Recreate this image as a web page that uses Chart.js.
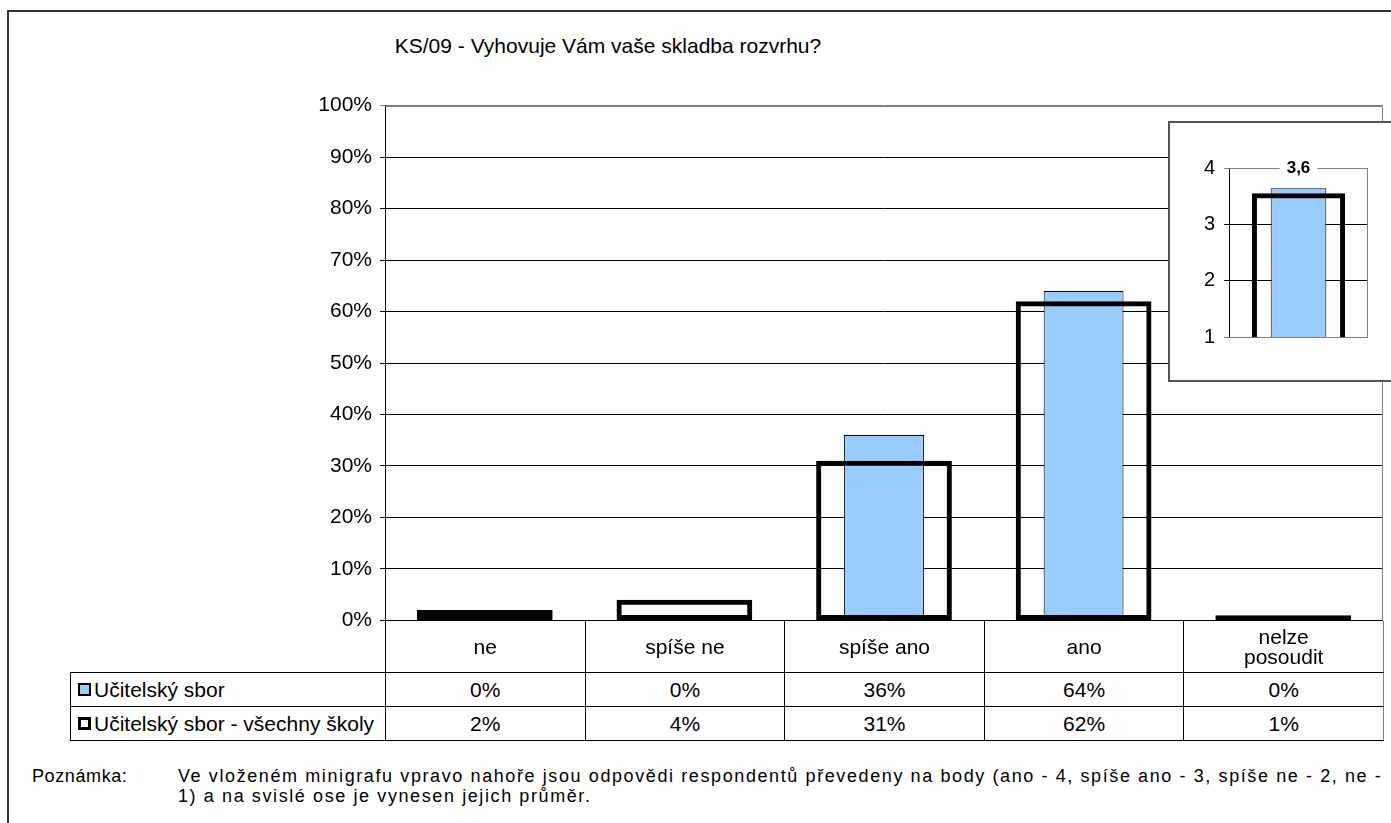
<!DOCTYPE html>
<html lang="cs">
<head>
<meta charset="utf-8">
<title>KS/09 - Vyhovuje Vám vaše skladba rozvrhu?</title>
<script src="https://cdn.jsdelivr.net/npm/chart.js@4.4.1/dist/chart.umd.min.js"></script>
<style>
  body { margin: 0; background: #fff; font-family: "Liberation Sans", Arial, sans-serif; color: #000; overflow: hidden; }
  #frame { position: absolute; left: 7px; top: 10px; width: 1400px; height: 830px; border: 2px solid #333; }
  #title { position: absolute; left: 0; width: 1216px; top: 34px; line-height: 24px; text-align: center; font-size: 21px; }
  #mainWrap { position: absolute; left: 300px; top: 85px; }
  #table { position: absolute; left: 0; top: 0; }
  .cell { position: absolute; box-sizing: border-box; display: flex; align-items: center; justify-content: center;
          text-align: center; font-size: 21px; line-height: 20px; white-space: nowrap; }
  .legendCell { justify-content: flex-start; padding-left: 7px; }
  .swatch { display: inline-block; box-sizing: border-box; width: 13px; height: 13px; margin-right: 3px; }
  #inset { position: absolute; left: 1168px; top: 121px; width: 240px; height: 257px; background: #fff; border: 2px solid #555; }
  #note { position: absolute; left: 32px; top: 766px; font-size: 18px; line-height: 20px; white-space: nowrap; letter-spacing: 1.6px; }
  #note .lbl { position: absolute; left: 0; top: 0; letter-spacing: 0.6px; }
  #note .txt { position: absolute; left: 146px; top: 0; }
</style>
</head>
<body>
<div id="frame"></div>
<div id="title">KS/09 - Vyhovuje Vám vaše skladba rozvrhu?</div>
<div id="mainWrap"><canvas id="mainChart" width="1091" height="556"></canvas></div>
<div id="table"></div>
<div id="inset"><canvas id="insetChart" width="210" height="235"></canvas></div>
<div id="note">
  <span class="lbl">Poznámka:</span>
  <span class="txt">Ve vloženém minigrafu vpravo nahoře jsou odpovědi respondentů převedeny na body (ano - 4, spíše ano - 3, spíše ne - 2, ne -<br>1) a na svislé ose je vynesen jejich průměr.</span>
</div>

<script>
// ======================
// DATA
// ======================
const categories = ["ne", "spíše ne", "spíše ano", "ano", ["nelze", "posoudit"]];
const seriesNames = ["Učitelský sbor", "Učitelský sbor - všechny školy"];
const schoolValues = [0, 0, 36, 64, 0];
const allSchoolsValues = [2, 4, 31, 62, 1];
const yTicksMax = 100;

// minigraph (average points, 1..4)
const insetSchool = [3.64];
const insetAllSchools = [3.55];
const insetLabel = "3,6";

const BLUE = "#99CCFF";

Chart.defaults.font.family = '"Liberation Sans", Arial, sans-serif';
Chart.defaults.color = "#000";


// ======================
// PLOT FRAME (gray top/right)
// ======================
const plotFrame = {
    id: "plotFrame",
    beforeDatasetsDraw(chart, args, opts) {
        const a = chart.chartArea;
        const ctx = chart.ctx;
        ctx.save();
        ctx.strokeStyle = "#808080";
        ctx.lineWidth = 1;
        ctx.beginPath();
        ctx.moveTo(a.left, Math.round(a.top) + 0.5);
        ctx.lineTo(Math.round(a.right) - 0.5, Math.round(a.top) + 0.5);
        ctx.lineTo(Math.round(a.right) - 0.5, Math.round(a.bottom) + 0.5);
        if (opts.bottom) ctx.lineTo(a.left, Math.round(a.bottom) + 0.5);
        ctx.stroke();
        ctx.restore();
    }
};


// ======================
// MAIN CHART
// ======================
const mainChart = new Chart(document.getElementById("mainChart"), {
    type: "bar",
    data: {
        labels: categories,
        datasets: [
            {
                label: seriesNames[1],
                data: allSchoolsValues,
                backgroundColor: "rgba(0,0,0,0)",
                borderColor: "#000",
                borderWidth: 5,
                borderSkipped: false,
                categoryPercentage: 1,
                barPercentage: 0.68,
                grouped: false,
                order: 1
            },
            {
                label: seriesNames[0],
                data: schoolValues,
                backgroundColor: BLUE,
                borderColor: "#000",
                borderWidth: 1,
                borderSkipped: false,
                categoryPercentage: 1,
                barPercentage: 0.40,
                grouped: false,
                order: 2
            }
        ]
    },
    options: {
        responsive: false,
        animation: false,
        layout: { padding: { top: 10, right: 8, bottom: 1, left: 0 } },
        plugins: {
            legend: { display: false },
            tooltip: { enabled: false },
            plotFrame: { bottom: false }
        },
        scales: {
            x: { display: false },
            y: {
                min: 0,
                max: yTicksMax,
                afterFit: s => { s.width = 85; },
                ticks: {
                    stepSize: 10,
                    padding: 8,
                    font: { size: 21 },
                    callback: v => v + "%"
                },
                grid: {
                    color: c => (c.tick && c.tick.value === yTicksMax) ? "#808080" : "#000",
                    tickLength: 5,
                    lineWidth: 1
                },
                border: { display: true, color: "#000", width: 1 }
            }
        }
    },
    plugins: [plotFrame]
});


// ======================
// DATA TABLE UNDER THE CHART
// ======================
function buildTable(chart) {
    const table = document.getElementById("table");
    const wrap = document.getElementById("mainWrap");
    const a = chart.chartArea;
    const offX = wrap.offsetLeft, offY = wrap.offsetTop;
    const left0 = offX + a.left;
    const step = (a.right - a.left) / categories.length;
    const top0 = Math.round(offY + a.bottom) + 1;
    const rows = [
        { top: top0, h: 52 },
        { top: top0 + 52, h: 34 },
        { top: top0 + 86, h: 34 }
    ];
    const legendLeft = 70;

    function cell(x, y, w, h, html, css) {
        const d = document.createElement("div");
        d.className = "cell";
        d.style.left = x + "px";
        d.style.top = y + "px";
        d.style.width = w + "px";
        d.style.height = h + "px";
        d.innerHTML = html;
        Object.assign(d.style, css || {});
        table.appendChild(d);
        return d;
    }

    // header row: empty legend cell + category labels
    cell(legendLeft, rows[0].top, left0 - legendLeft, rows[0].h, "", { borderBottom: "1px solid #000" });
    categories.forEach((c, i) => {
        const txt = Array.isArray(c) ? c.join("<br>") : c;
        const css = { borderLeft: "1px solid #000", borderBottom: "1px solid #000" };
        if (i === categories.length - 1) css.borderRight = "1px solid #808080";
        cell(left0 + i * step, rows[0].top, step + (i === categories.length - 1 ? 1 : 0), rows[0].h, txt, css);
    });

    // value rows
    const seriesData = [schoolValues, allSchoolsValues];
    const swatches = [
        '<span class="swatch" style="background:' + BLUE + ';border:2px solid #000"></span>',
        '<span class="swatch" style="background:#fff;border:3px solid #000"></span>'
    ];
    seriesData.forEach((vals, r) => {
        const row = rows[r + 1];
        const d = cell(legendLeft, row.top, left0 - legendLeft, row.h, swatches[r] + seriesNames[r],
            { borderLeft: "1px solid #000", borderBottom: "1px solid #000" });
        d.classList.add("legendCell");
        vals.forEach((v, i) => {
            const css = { borderLeft: "1px solid #000", borderBottom: "1px solid #000" };
            if (i === vals.length - 1) css.borderRight = "1px solid #808080";
            cell(left0 + i * step, row.top, step + (i === vals.length - 1 ? 1 : 0), row.h, v + "%", css);
        });
    });
}

buildTable(mainChart);


// ======================
// MINIGRAPH (TOP RIGHT)
// ======================
const insetLabelPlugin = {
    id: "insetLabel",
    afterDraw(chart, args, opts) {
        const a = chart.chartArea;
        const ctx = chart.ctx;
        const cx = (a.left + a.right) / 2;
        ctx.save();
        ctx.font = 'bold 17px "Liberation Sans", Arial, sans-serif';
        const w = ctx.measureText(opts.text).width + 14;
        ctx.fillStyle = "#fff";
        ctx.fillRect(cx - w / 2, a.top - 4, w, 8);
        ctx.fillStyle = "#000";
        ctx.textAlign = "center";
        ctx.textBaseline = "middle";
        ctx.fillText(opts.text, cx, a.top);
        ctx.restore();
    }
};

const insetChart = new Chart(document.getElementById("insetChart"), {
    type: "bar",
    data: {
        labels: [""],
        datasets: [
            {
                data: insetAllSchools,
                backgroundColor: "rgba(0,0,0,0)",
                borderColor: "#000",
                borderWidth: 5,
                borderSkipped: false,
                categoryPercentage: 1,
                barPercentage: 0.67,
                grouped: false,
                order: 1
            },
            {
                data: insetSchool,
                backgroundColor: BLUE,
                borderColor: "#000",
                borderWidth: 1,
                borderSkipped: false,
                categoryPercentage: 1,
                barPercentage: 0.40,
                grouped: false,
                order: 2
            }
        ]
    },
    options: {
        responsive: false,
        animation: false,
        layout: { padding: { top: 45, right: 12, bottom: 20, left: 0 } },
        plugins: {
            legend: { display: false },
            tooltip: { enabled: false },
            plotFrame: { bottom: true },
            insetLabel: { text: insetLabel }
        },
        scales: {
            x: { display: false },
            y: {
                min: 1,
                max: 4,
                afterFit: s => { s.width = 59; },
                ticks: { stepSize: 1, padding: 9, font: { size: 20 } },
                grid: {
                    color: c => (c.tick && (c.tick.value === 1 || c.tick.value === 4)) ? "#808080" : "#000",
                    tickLength: 5
                },
                border: { display: true, color: "#000", width: 1 }
            }
        }
    },
    plugins: [plotFrame, insetLabelPlugin]
});
</script>
</body>
</html>
